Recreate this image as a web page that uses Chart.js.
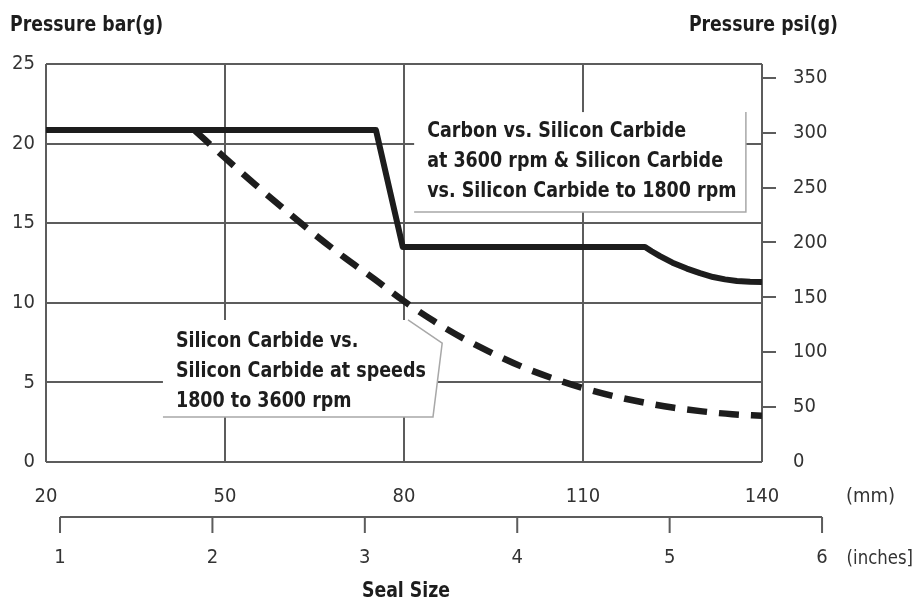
<!DOCTYPE html>
<html>
<head>
<meta charset="utf-8">
<style>
  html, body { margin: 0; padding: 0; background: #fff; }
  #wrap { width: 917px; height: 603px; }
</style>
</head>
<body>
<div id="wrap"><canvas id="chart" width="917" height="603"></canvas></div>
<script src="https://cdn.jsdelivr.net/npm/chart.js@4.4.1/dist/chart.umd.min.js"></script>
<script>
// Seal pressure limit vs. seal size.
const MM_TICKS = [20, 50, 80, 110, 140];
const BAR_TICKS = [0, 5, 10, 15, 20, 25];
const PSI_TICKS = [0, 50, 100, 150, 200, 250, 300, 350];
const INCH_TICKS = [1, 2, 3, 4, 5, 6];

// Carbon vs. SiC at 3600 rpm & SiC vs. SiC to 1800 rpm (solid)
const CARBON_MM = [20, 75.3, 79.8, 120.4, 121.5, 122.9, 125, 127.4, 129.6, 131.8, 133.8, 135.8, 138, 140];
const CARBON_BAR = [20.85, 20.85, 13.5, 13.5, 13.24, 12.93, 12.52, 12.15, 11.86, 11.62, 11.47, 11.37, 11.32, 11.3];

// SiC vs. SiC at 1800-3600 rpm (dashed)
const SIC_MM = [45, 50, 55, 60, 65, 70, 75, 80, 85, 90, 95, 100, 105, 110, 115, 120, 125, 130, 135, 140];
const SIC_BAR = [20.8, 19.1, 17.45, 15.85, 14.3, 12.85, 11.5, 10.1, 8.85, 7.75, 6.8, 5.95, 5.25, 4.65, 4.15, 3.75, 3.42, 3.18, 3.0, 2.9];

const BAR_TO_PSI = 14.5038;

const UPPER_NOTE = ["Carbon vs. Silicon Carbide", "at 3600 rpm & Silicon Carbide", "vs. Silicon Carbide to 1800 rpm"];
const LOWER_NOTE = ["Silicon Carbide vs.", "Silicon Carbide at speeds", "1800 to 3600 rpm"];

const FONT = "'DejaVu Sans Condensed', 'Liberation Sans Narrow', 'Liberation Sans', sans-serif";
const GRID = "#5c5c5c";
const INK = "#1d1d1d";
const TICK_TEXT = "#333";

function pts(xs, ys) {
  return xs.map((x, i) => ({ x, y: ys[i] }));
}

function fixTicks(list) {
  return (scale) => { scale.ticks = list.map((v) => ({ value: v })); };
}

// Draw text squeezed horizontally (the original uses a tall condensed face).
function text(ctx, s, x, y, font, align, sx, color) {
  ctx.save();
  ctx.font = font;
  ctx.textAlign = align || "left";
  ctx.textBaseline = "middle";
  ctx.fillStyle = color || INK;
  ctx.translate(x, y);
  ctx.scale(sx || 1, 1);
  ctx.fillText(s, 0, 0);
  ctx.restore();
}

// White callout boxes that sit over the grid, with a faint right/bottom edge.
const notesPlugin = {
  id: "notes",
  beforeDatasetsDraw(chart) {
    const { ctx } = chart;
    const x = chart.scales.x;
    const y = chart.scales.y;
    const px = (v) => x.getPixelForValue(v);
    const py = (v) => y.getPixelForValue(v);
    ctx.save();
    ctx.lineWidth = 1.5;
    ctx.strokeStyle = "#a8a8a8";

    // upper box
    const l = px(81.7), r = px(137.3), t = py(21.98), b = py(15.7);
    ctx.fillStyle = "#fff";
    ctx.fillRect(l, t, r - l, b - t);
    ctx.beginPath();
    ctx.moveTo(r, t);
    ctx.lineTo(r, b);
    ctx.lineTo(l, b);
    ctx.stroke();

    // lower box with pointer toward the dashed curve
    const poly = [[39.6, 8.92], [80.67, 8.92], [86.4, 7.47], [84.86, 2.83], [39.6, 2.83]].map((p) => [px(p[0]), py(p[1])]);
    ctx.beginPath();
    poly.forEach((p, i) => (i ? ctx.lineTo(p[0], p[1]) : ctx.moveTo(p[0], p[1])));
    ctx.closePath();
    ctx.fill();
    ctx.beginPath();
    ctx.moveTo(poly[1][0], poly[1][1]);
    ctx.lineTo(poly[2][0], poly[2][1]);
    ctx.lineTo(poly[3][0], poly[3][1]);
    ctx.lineTo(poly[4][0], poly[4][1]);
    ctx.stroke();

    const f = "bold 22px " + FONT;
    UPPER_NOTE.forEach((s, i) => text(ctx, s, l + 13, t + 19 + i * 30, f, "left", 0.885));
    LOWER_NOTE.forEach((s, i) => text(ctx, s, poly[0][0] + 13, poly[0][1] + 21 + i * 30, f, "left", 0.885));
    ctx.restore();
  }
};

// Axis titles, unit labels and the secondary inch scale under the mm axis.
const framePlugin = {
  id: "frame",
  afterDraw(chart) {
    const { ctx } = chart;
    const xin = chart.scales.xin;
    const area = chart.chartArea;
    ctx.save();
    text(ctx, "Pressure bar(g)", 10, 25, "bold 22px " + FONT, "left", 0.875);
    text(ctx, "Pressure psi(g)", 838, 25, "bold 22px " + FONT, "right", 0.875);
    text(ctx, "(mm)", 846, 497, "20px " + FONT, "left", 1, TICK_TEXT);
    text(ctx, "(inches]", 913, 559, "20px " + FONT, "right", 0.92, TICK_TEXT);
    text(ctx, "Seal Size", (area.left + area.right) / 2 + 2, 591, "bold 22px " + FONT, "center", 0.875);

    const lineY = 517;
    const x0 = xin.getPixelForValue(INCH_TICKS[0]);
    const x1 = xin.getPixelForValue(INCH_TICKS[INCH_TICKS.length - 1]);
    ctx.strokeStyle = GRID;
    ctx.lineWidth = 2;
    ctx.beginPath();
    ctx.moveTo(x0, lineY);
    ctx.lineTo(x1, lineY);
    INCH_TICKS.forEach((v) => {
      const p = xin.getPixelForValue(v);
      ctx.moveTo(p, lineY);
      ctx.lineTo(p, lineY + 16);
    });
    ctx.stroke();
    INCH_TICKS.forEach((v) => {
      text(ctx, String(v), xin.getPixelForValue(v), 558, "20px " + FONT, "center", 1, TICK_TEXT);
    });
    ctx.restore();
  }
};

const tickFont = { family: FONT, size: 20 };

new Chart(document.getElementById("chart"), {
  type: "line",
  data: {
    datasets: [
      {
        label: "Carbon vs. Silicon Carbide",
        data: pts(CARBON_MM, CARBON_BAR),
        borderColor: INK,
        borderWidth: 6,
        borderJoinStyle: "round",
        pointRadius: 0,
        tension: 0
      },
      {
        label: "Silicon Carbide vs. Silicon Carbide",
        data: pts(SIC_MM, SIC_BAR),
        borderColor: INK,
        borderWidth: 6.5,
        borderDash: [20, 12],
        borderCapStyle: "butt",
        pointRadius: 0,
        cubicInterpolationMode: "monotone"
      }
    ]
  },
  options: {
    responsive: false,
    animation: false,
    layout: { padding: { left: 0, right: 0, top: 64, bottom: 0 } },
    plugins: { legend: { display: false }, tooltip: { enabled: false } },
    scales: {
      x: {
        type: "linear",
        min: 20,
        max: 140,
        afterBuildTicks: fixTicks(MM_TICKS),
        afterFit: (s) => { s.height = 141; },
        grid: { color: GRID, lineWidth: 2, drawTicks: false },
        border: { display: false },
        ticks: { font: tickFont, color: TICK_TEXT, padding: 23, maxRotation: 0 }
      },
      xin: {
        type: "linear",
        display: false,
        min: 0.908,
        max: 5.606
      },
      y: {
        position: "left",
        min: 0,
        max: 25,
        afterBuildTicks: fixTicks(BAR_TICKS),
        afterFit: (s) => { s.width = 46; },
        grid: { color: GRID, lineWidth: 2, drawTicks: false },
        border: { display: false },
        ticks: { font: tickFont, color: TICK_TEXT, padding: 11 }
      },
      y2: {
        position: "right",
        min: 0,
        max: 25 * BAR_TO_PSI,
        afterBuildTicks: fixTicks(PSI_TICKS),
        afterFit: (s) => { s.width = 155; },
        grid: {
          drawOnChartArea: false,
          tickLength: 14,
          lineWidth: 2,
          color: (c) => (c.tick && c.tick.value === 0 ? "rgba(0,0,0,0)" : GRID)
        },
        border: { display: false },
        ticks: { font: tickFont, color: TICK_TEXT, padding: 17 }
      }
    }
  },
  plugins: [notesPlugin, framePlugin]
});
</script>
</body>
</html>
